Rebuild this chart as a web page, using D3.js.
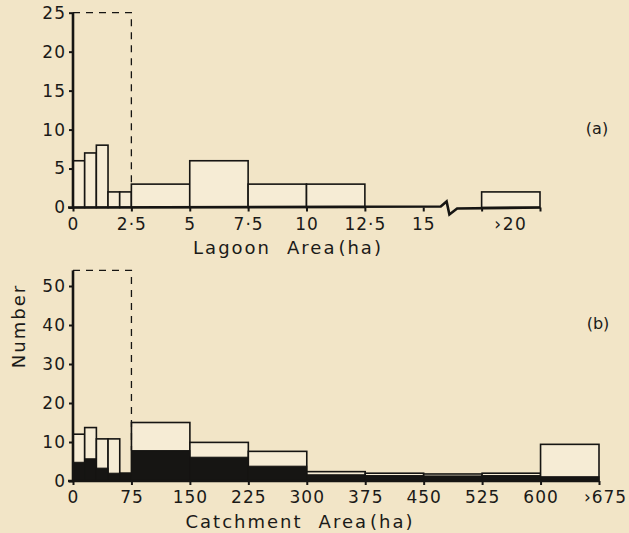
<!DOCTYPE html>
<html>
<head>
<meta charset="utf-8">
<script src="https://cdn.jsdelivr.net/npm/d3@7"></script>
<style>
  html, body { margin: 0; padding: 0; background: #f2e5c7; }
  svg { display: block; }
  text { font-family: "DejaVu Sans", sans-serif; fill: #1b1a18; }
</style>
</head>
<body>
<svg width="629" height="533"></svg>
<script>
// (a) lagoon area histogram
var lagoonEdges = [0, 0.5, 1, 1.5, 2, 2.5, 5, 7.5, 10, 12.5];
var lagoonCounts = [6, 7, 8, 2, 2, 3, 6, 3, 3];
var lagoonOver = [17.5, 20];          // the ">20" class, drawn after the break
var lagoonOverCount = 2;
var lagoonFirstTotal = 25;            // dashed class 0-2.5 ha
var lagoonTicks = [0, 2.5, 5, 7.5, 10, 12.5, 15, 17.5, 20];
var lagoonTickLabels = ["0", "2·5", "5", "7·5", "10", "12·5", "15", "", ""];
var lagoonYTicks = [0, 5, 10, 15, 20, 25];

// (b) catchment area histogram, outline = all, black = subset
var catchEdges = [0, 15, 30, 45, 60, 75, 150, 225, 300, 375, 450, 525, 600, 675];
var catchCounts = [12, 13.7, 10.8, 10.8, 2, 15, 9.9, 7.6, 2.4, 2, 1.8, 2, 9.4];
var catchBlack = [4.8, 5.7, 3.3, 2, 2, 7.8, 6.1, 3.8, 1.6, 1.4, 1.3, 1.4, 1.1];
var catchFirstTotal = 54;             // dashed class 0-75 ha
var catchTicks = [0, 75, 150, 225, 300, 375, 450, 525, 600, 675];
var catchTickLabels = ["0", "75", "150", "225", "300", "375", "450", "525", "600", "›675"];
var catchYTicks = [0, 10, 20, 30, 40, 50];

var svg = d3.select("svg");
var ink = "#161513";
var barFill = "#f6ecd5";

var xTop = d3.scaleLinear().domain([0, 20]).range([73, 540]);
var yTop = d3.scaleLinear().domain([0, 25]).range([207.5, 12.7]);
var xBot = d3.scaleLinear().domain([0, 675]).range([73, 599]);
var yBot = d3.scaleLinear().domain([0, 50]).range([481, 286]);

function bins(edges, vals) {
  return vals.map(function(v, i) { return {x0: edges[i], x1: edges[i + 1], v: v}; });
}

// axis title with a wide gap between the words, like the figure
function title(g, x, y, first, rest) {
  var t = g.append("text")
    .attr("x", x).attr("y", y)
    .attr("text-anchor", "middle")
    .style("font-size", "18px").style("letter-spacing", "2px");
  t.append("tspan").text(first);
  t.append("tspan").attr("dx", 16).text("Area");
  t.append("tspan").attr("dx", 2).text("(ha)");
  return t;
}

// ---------- panel (a) ----------
var gA = svg.append("g");
var topBins = bins(lagoonEdges, lagoonCounts);
topBins.push({x0: lagoonOver[0], x1: lagoonOver[1], v: lagoonOverCount});

gA.selectAll("rect.bar")
  .data(topBins)
  .enter().append("rect")
    .attr("class", "bar")
    .attr("x", function(d) { return xTop(d.x0); })
    .attr("width", function(d) { return xTop(d.x1) - xTop(d.x0); })
    .attr("y", function(d) { return yTop(d.v); })
    .attr("height", function(d) { return yTop(0) - yTop(d.v); })
    .style("fill", barFill)
    .style("stroke", ink)
    .style("stroke-width", 1.6);

// dashed total for the first class
gA.append("path")
  .attr("d", "M" + xTop(0) + "," + yTop(lagoonFirstTotal) + "H" + xTop(2.5) + "V" + yTop(lagoonCounts[5]))
  .style("fill", "none").style("stroke", ink).style("stroke-width", 1.3)
  .style("stroke-dasharray", "7,6");

// y axis
var axA = gA.append("g").attr("transform", "translate(" + xTop(0) + ",0)")
  .call(d3.axisLeft(yTop).tickValues(lagoonYTicks).tickSize(4).tickSizeOuter(0).tickPadding(3));
axA.select(".domain").remove();
gA.append("line")
  .attr("x1", xTop(0)).attr("x2", xTop(0))
  .attr("y1", yTop(0) + 1).attr("y2", yTop(25))
  .style("stroke", ink).style("stroke-width", 2.6);

// x axis with break
var axAx = gA.append("g").attr("transform", "translate(0," + yTop(0) + ")")
  .call(d3.axisBottom(xTop).tickValues(lagoonTicks).tickSize(4).tickSizeOuter(0).tickPadding(6)
    .tickFormat(function(d, i) { return lagoonTickLabels[i]; }));
axAx.select(".domain").remove();
var y0 = yTop(0);
gA.append("path")
  .attr("d", "M" + (xTop(0) - 5) + "," + y0 +
             "L" + xTop(15.75) + "," + (y0 - 1) +
             "L" + xTop(16.0) + "," + (y0 - 6) +
             "L" + xTop(16.12) + "," + (y0 + 7) +
             "L" + xTop(16.45) + "," + (y0 + 1) +
             "L" + xTop(20) + "," + y0)
  .style("fill", "none").style("stroke", ink).style("stroke-width", 2.6)
  .style("stroke-linejoin", "miter");
gA.append("text")
  .attr("x", xTop(18.75)).attr("y", y0 + 22)
  .attr("text-anchor", "middle")
  .style("font-size", "17px").style("letter-spacing", "1.5px")
  .text("›20");

title(gA, 288, 254, "Lagoon");

gA.append("text")
  .attr("x", 597).attr("y", 134)
  .attr("text-anchor", "middle")
  .style("font-size", "16px")
  .text("(a)");

// ---------- panel (b) ----------
var gB = svg.append("g");
var botBins = catchCounts.map(function(v, i) {
  return {x0: catchEdges[i], x1: catchEdges[i + 1], v: v, b: catchBlack[i]};
});

gB.selectAll("rect.bar")
  .data(botBins)
  .enter().append("rect")
    .attr("class", "bar")
    .attr("x", function(d) { return xBot(d.x0); })
    .attr("width", function(d) { return xBot(d.x1) - xBot(d.x0); })
    .attr("y", function(d) { return yBot(d.v); })
    .attr("height", function(d) { return yBot(0) - yBot(d.v); })
    .style("fill", barFill)
    .style("stroke", ink)
    .style("stroke-width", 1.6);

gB.selectAll("rect.black")
  .data(botBins)
  .enter().append("rect")
    .attr("class", "black")
    .attr("x", function(d) { return xBot(d.x0); })
    .attr("width", function(d) { return xBot(d.x1) - xBot(d.x0); })
    .attr("y", function(d) { return yBot(d.b); })
    .attr("height", function(d) { return yBot(0) - yBot(d.b); })
    .style("fill", ink)
    .style("stroke", ink)
    .style("stroke-width", 1);

gB.append("path")
  .attr("d", "M" + xBot(0) + "," + yBot(catchFirstTotal) + "H" + xBot(75) + "V" + yBot(catchBlack[5]))
  .style("fill", "none").style("stroke", ink).style("stroke-width", 1.3)
  .style("stroke-dasharray", "7,6");

var axB = gB.append("g").attr("transform", "translate(" + xBot(0) + ",0)")
  .call(d3.axisLeft(yBot).tickValues(catchYTicks).tickSize(4).tickSizeOuter(0).tickPadding(3));
axB.select(".domain").remove();
gB.append("line")
  .attr("x1", xBot(0)).attr("x2", xBot(0))
  .attr("y1", yBot(0) + 1).attr("y2", yBot(catchFirstTotal))
  .style("stroke", ink).style("stroke-width", 2.6);

var axBx = gB.append("g").attr("transform", "translate(0," + yBot(0) + ")")
  .call(d3.axisBottom(xBot).tickValues(catchTicks).tickSize(4).tickSizeOuter(0).tickPadding(6)
    .tickFormat(function(d, i) { return catchTickLabels[i]; }));
axBx.select(".domain").remove();
gB.append("line")
  .attr("x1", xBot(0) - 5).attr("x2", xBot(675))
  .attr("y1", yBot(0)).attr("y2", yBot(0))
  .style("stroke", ink).style("stroke-width", 2.6);

title(gB, 300, 528, "Catchment");

gB.append("text")
  .attr("x", 598).attr("y", 329)
  .attr("text-anchor", "middle")
  .style("font-size", "16px")
  .text("(b)");

svg.append("text")
  .attr("transform", "translate(25,326) rotate(-90)")
  .attr("text-anchor", "middle")
  .style("font-size", "18px").style("letter-spacing", "2px")
  .text("Number");

// shared axis text / tick styling
svg.selectAll(".tick text")
  .style("font-size", "17px")
  .style("letter-spacing", "1px")
  .style("fill", "#1b1a18")
  .style("font-family", "'DejaVu Sans', sans-serif");
svg.selectAll(".tick line")
  .style("stroke", ink)
  .style("stroke-width", 2);
// nudge the last catchment label right, as in the figure
axBx.selectAll(".tick text").filter(function(d) { return d === 675; }).attr("dx", "6");
</script>
</body>
</html>
